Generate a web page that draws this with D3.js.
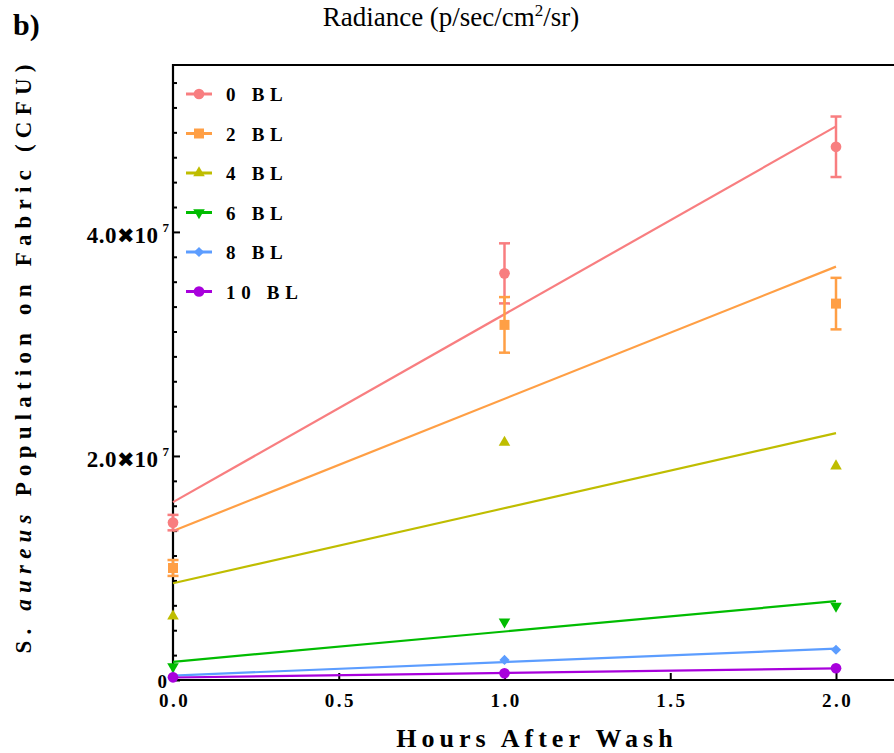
<!DOCTYPE html>
<html>
<head>
<meta charset="utf-8">
<script src="https://cdn.jsdelivr.net/npm/d3@7"></script>
<style>
  html, body { margin: 0; padding: 0; background: #fff; }
  svg { display: block; }
  text { font-family: "Liberation Serif", "Times New Roman", serif; }
</style>
</head>
<body>
<svg id="chart" width="894" height="753"></svg>
<script>
// Hours after wash (x categories)
const hours = [0, 1, 2];

// Mean S. aureus population (CFU) per wash count
const seriesNames = ["0 BL", "2 BL", "4 BL", "6 BL", "8 BL", "10 BL"];
const bl0  = [14.05e6, 36.3e6, 47.6e6];
const bl2  = [10.0e6, 31.7e6, 33.6e6];
const bl4  = [5.7e6, 21.2e6, 19.1e6];
const bl6  = [1.19e6, 5.2e6, 6.6e6];
const bl8  = [0.3e6, 1.79e6, 2.7e6];
const bl10 = [0.24e6, 0.6e6, 1.05e6];

// Standard error (CFU); only the two lowest wash counts show bars
const bl0Err  = [0.69e6, 2.68e6, 2.7e6];
const bl2Err  = [0.71e6, 2.48e6, 2.3e6];
const noErr   = [0, 0, 0];

const seriesColors = ["#F87E80", "#FF9F45", "#BFBD00", "#00BC00", "#5C9DFF", "#A800DC"];
const seriesShapes = ["circle", "square", "triangle", "triangleDown", "diamond", "circle"];

// Axis ticks
const xTicks = [0, 0.5, 1.0, 1.5, 2.0];
const xTickLabels = ["0.0", "0.5", "1.0", "1.5", "2.0"];
const yMajorTicks = [0, 2e7, 4e7];

const allValues = [bl0, bl2, bl4, bl6, bl8, bl10];
const allErrors = [bl0Err, bl2Err, noErr, noErr, noErr, noErr];

const series = seriesNames.map((name, i) => ({
  name,
  color: seriesColors[i],
  shape: seriesShapes[i],
  points: hours.map((h, j) => ({ x: h, y: allValues[i][j], e: allErrors[i][j] }))
}));

const svg = d3.select("#chart");
const plotLeft = 173, plotTop = 65, plotBottom = 680;

const x = d3.scaleLinear().domain([0, 2]).range([plotLeft, 836]);
const y = d3.scaleLinear().domain([0, 5.49e7]).range([plotBottom, plotTop]);

// Frame: top border line
svg.append("line").attr("x1", plotLeft).attr("x2", 900).attr("y1", plotTop).attr("y2", plotTop)
  .attr("stroke", "#000").attr("stroke-width", 2);

// Y axis with inward ticks
const yMinor = d3.range(0, 5.4e7, 2e7 / 9).filter(v => !yMajorTicks.some(m => Math.abs(m - v) < 1));
const yAxisMinor = d3.axisRight(y).tickValues(yMinor).tickSize(4).tickFormat("");
const yAxisMajor = d3.axisRight(y).tickValues(yMajorTicks).tickSize(7).tickFormat("");
svg.append("g").attr("transform", `translate(${plotLeft},0)`).call(yAxisMinor)
  .call(g => g.select(".domain").remove())
  .call(g => g.selectAll("line").attr("stroke-width", 2));
svg.append("g").attr("transform", `translate(${plotLeft},0)`).call(yAxisMajor)
  .call(g => g.select(".domain").remove())
  .call(g => g.selectAll("line").attr("stroke-width", 2));
svg.append("line").attr("x1", plotLeft).attr("x2", plotLeft).attr("y1", plotTop - 1).attr("y2", plotBottom + 1)
  .attr("stroke", "#000").attr("stroke-width", 2.2);

// X axis with inward ticks
const xAxis = d3.axisTop(x).tickValues(xTicks).tickSize(7).tickFormat("");
svg.append("g").attr("transform", `translate(0,${plotBottom})`).call(xAxis)
  .call(g => g.select(".domain").remove())
  .call(g => g.selectAll("line").attr("stroke-width", 2));
svg.append("line").attr("x1", plotLeft - 1).attr("x2", 900).attr("y1", plotBottom).attr("y2", plotBottom)
  .attr("stroke", "#000").attr("stroke-width", 2.2);

// X tick labels
svg.append("g").selectAll("text").data(xTicks).join("text")
  .attr("x", d => x(d) + 1.5).attr("y", 707)
  .attr("text-anchor", "middle")
  .attr("font-size", 19).attr("font-weight", "bold").attr("letter-spacing", 2.5)
  .text((d, i) => xTickLabels[i]);

// Y tick labels
yMajorTicks.forEach(v => {
  const t = svg.append("text").attr("font-weight", "bold").attr("text-anchor", "end");
  if (v === 0) {
    t.attr("x", 167).attr("y", y(v) + 8).attr("font-size", 19).text("0");
  } else {
    const mant = (v / 1e7).toFixed(1);
    t.attr("x", 169).attr("y", y(v) + 11).attr("font-size", 23);
    t.append("tspan").attr("letter-spacing", 0.5).text(mant);
    t.append("tspan").attr("font-family", "DejaVu Sans").attr("font-size", 21).text("\u2716");
    t.append("tspan").attr("letter-spacing", 0.5).text("10");
    t.append("tspan").attr("font-size", 13).attr("dx", 4).attr("dy", -11).text("7");
  }
});

// Axis titles
svg.append("text").attr("x", 537).attr("y", 747).attr("text-anchor", "middle")
  .attr("font-size", 26).attr("font-weight", "bold").attr("letter-spacing", 5)
  .text("Hours After Wash");

const yTitle = svg.append("text")
  .attr("transform", "translate(31,356) rotate(-90)")
  .attr("text-anchor", "middle").attr("font-size", 23).attr("font-weight", "bold")
  .attr("letter-spacing", 6.2);
yTitle.append("tspan").text("S. ");
yTitle.append("tspan").attr("font-style", "italic").text("aureus");
yTitle.append("tspan").text(" Population on Fabric (CFU)");

svg.append("text").attr("x", 13).attr("y", 35).attr("font-size", 30).attr("font-weight", "bold").text("b)");

const radTitle = svg.append("text").attr("x", 451).attr("y", 26).attr("text-anchor", "middle").attr("font-size", 27);
radTitle.append("tspan").text("Radiance (p/sec/cm");
radTitle.append("tspan").attr("font-size", 17).attr("dy", -10).text("2");
radTitle.append("tspan").attr("dy", 10).text("/sr)");

// Marker shapes
function symbolPath(shape) {
  if (shape === "circle") return d3.symbol(d3.symbolCircle, 90)();
  if (shape === "square") return d3.symbol(d3.symbolSquare, 100)();
  if (shape === "triangle" || shape === "triangleDown") return d3.symbol(d3.symbolTriangle, 58)();
  if (shape === "diamond") return d3.symbol(d3.symbolSquare, 52)();
}
function symbolRotate(shape) {
  if (shape === "triangleDown") return 180;
  if (shape === "diamond") return 45;
  return 0;
}

// Least-squares fit for each series
function linearFit(pts) {
  const mx = d3.mean(pts, p => p.x), my = d3.mean(pts, p => p.y);
  const sxy = d3.sum(pts, p => (p.x - mx) * (p.y - my));
  const sxx = d3.sum(pts, p => (p.x - mx) ** 2);
  const slope = sxy / sxx;
  return { slope, intercept: my - slope * mx };
}

const plot = svg.append("g");
series.forEach(s => {
  const fit = linearFit(s.points);
  const x0 = d3.min(hours), x1 = d3.max(hours);
  plot.append("line")
    .attr("x1", x(x0)).attr("y1", y(fit.intercept + fit.slope * x0))
    .attr("x2", x(x1)).attr("y2", y(fit.intercept + fit.slope * x1))
    .attr("stroke", s.color).attr("stroke-width", 2.2);
});

series.forEach(s => {
  const g = plot.append("g");
  s.points.filter(p => p.e > 0).forEach(p => {
    const cx = x(p.x);
    g.append("line").attr("x1", cx).attr("x2", cx).attr("y1", y(p.y - p.e)).attr("y2", y(p.y + p.e))
      .attr("stroke", s.color).attr("stroke-width", 2.5);
    [p.y - p.e, p.y + p.e].forEach(v => {
      g.append("line").attr("x1", cx - 5.5).attr("x2", cx + 5.5).attr("y1", y(v)).attr("y2", y(v))
        .attr("stroke", s.color).attr("stroke-width", 2.5);
    });
  });
  g.selectAll("path").data(s.points).join("path")
    .attr("d", symbolPath(s.shape))
    .attr("transform", p => `translate(${x(p.x)},${y(p.y)}) rotate(${symbolRotate(s.shape)})`)
    .attr("fill", s.color);
});

// Legend
const legend = svg.append("g");
series.forEach((s, i) => {
  const ly = 94 + i * 39.5;
  legend.append("line").attr("x1", 186).attr("x2", 212).attr("y1", ly).attr("y2", ly)
    .attr("stroke", s.color).attr("stroke-width", 3);
  legend.append("path").attr("d", symbolPath(s.shape))
    .attr("transform", `translate(199,${ly}) rotate(${symbolRotate(s.shape)})`)
    .attr("fill", s.color);
  legend.append("text").attr("x", 226).attr("y", ly + 7)
    .attr("font-size", 19).attr("font-weight", "bold").attr("letter-spacing", 5.7)
    .text(s.name);
});
</script>
</body>
</html>
